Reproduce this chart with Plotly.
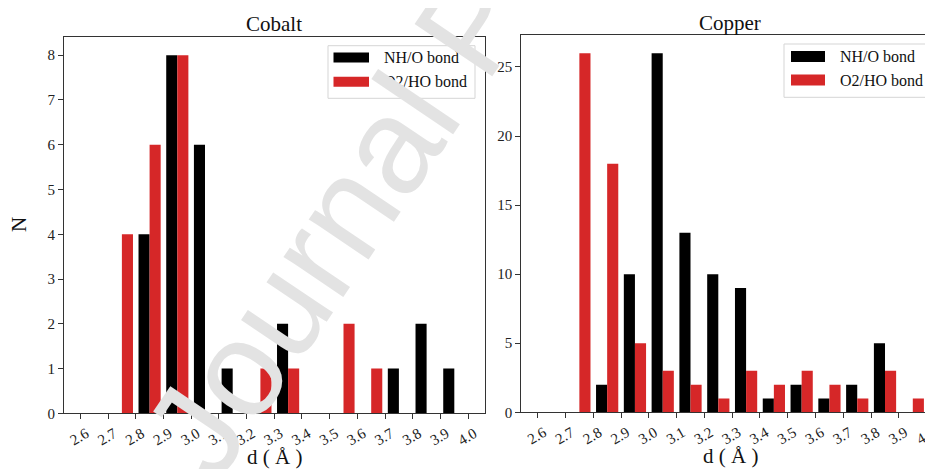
import plotly.graph_objects as go

# ---- data ----
bin_centers = [2.65, 2.75, 2.85, 2.95, 3.05, 3.15, 3.25, 3.35, 3.45, 3.55, 3.65, 3.75, 3.85, 3.95]
tick_vals = [2.6, 2.7, 2.8, 2.9, 3.0, 3.1, 3.2, 3.3, 3.4, 3.5, 3.6, 3.7, 3.8, 3.9, 4.0]
tick_text = ["2.6", "2.7", "2.8", "2.9", "3.0", "3.1", "3.2", "3.3", "3.4", "3.5", "3.6", "3.7", "3.8", "3.9", "4.0"]

cobalt_nho = [0, 0, 4, 8, 6, 1, 0, 2, 0, 0, 0, 1, 2, 1]
cobalt_o2ho = [0, 4, 6, 8, 0, 0, 1, 1, 0, 2, 1, 0, 0, 0]
copper_nho = [0, 0, 2, 10, 26, 13, 10, 9, 1, 2, 1, 2, 5, 0]
copper_o2ho = [0, 26, 18, 5, 3, 2, 1, 3, 2, 3, 2, 1, 3, 1]

series_names = ["NH/O bond", "O2/HO bond"]
BLACK = "#000000"
RED = "#d62728"
SERIF = "Liberation Serif, Times New Roman, serif"

# the page body has an 8px margin, so the figure is drawn at (8, 8) in the window
OFF = 8
VW, VH = 933, 469
W, H = VW - OFF, VH - OFF
def px_x(p):
    return (p - OFF) / W
def px_y(p):
    return (H - (p - OFF)) / H

fig = go.Figure()
fig.add_trace(go.Bar(x=bin_centers, y=cobalt_nho, name=series_names[0], marker_color=BLACK,
                     marker_line_width=0, xaxis="x", yaxis="y", showlegend=False))
fig.add_trace(go.Bar(x=bin_centers, y=cobalt_o2ho, name=series_names[1], marker_color=RED,
                     marker_line_width=0, xaxis="x", yaxis="y", showlegend=False))
fig.add_trace(go.Bar(x=bin_centers, y=copper_nho, name=series_names[0], marker_color=BLACK,
                     marker_line_width=0, xaxis="x2", yaxis="y2", showlegend=False))
fig.add_trace(go.Bar(x=bin_centers, y=copper_o2ho, name=series_names[1], marker_color=RED,
                     marker_line_width=0, xaxis="x2", yaxis="y2", showlegend=False))

axis_common = dict(showgrid=False, zeroline=False, showline=True, linecolor="#333333", linewidth=1,
                   ticks="outside", ticklen=5, tickcolor="#333333", automargin=False,
                   ticklabeloverflow="allow",
                   tickfont=dict(family=SERIF, size=15, color="#222222"))

fig.update_layout(
    width=W, height=H,
    margin=dict(l=0, r=0, t=0, b=0, autoexpand=False),
    paper_bgcolor="white", plot_bgcolor="white",
    barmode="group", bargap=0.2, bargroupgap=0,
    xaxis=dict(domain=[px_x(64), px_x(484.5)], range=[2.541, 4.059], anchor="y",
               tickvals=tick_vals, ticktext=tick_text, tickangle=-30, mirror=True,
               ticklabelshift=6, **axis_common),
    yaxis=dict(domain=[px_y(413.3), px_y(37.3)], range=[0, 8.4], anchor="x",
               dtick=1, mirror=True, **axis_common),
    xaxis2=dict(domain=[px_x(521.3), 1.0], range=[2.541, 4.0227], anchor="y2",
                tickvals=tick_vals, ticktext=tick_text, tickangle=-30, mirror=True,
                ticklabelshift=6, **axis_common),
    yaxis2=dict(domain=[px_y(412.3), px_y(35.2)], range=[0, 27.3], anchor="x2",
                dtick=5, mirror=False, **axis_common),
)

ann = []
def label(text, x, y, size=21, angle=0):
    ann.append(dict(text=text, x=px_x(x), y=px_y(y), xref="paper", yref="paper",
                    xanchor="center", yanchor="middle", textangle=angle,
                    showarrow=False, font=dict(family=SERIF, size=size, color="#111111")))

# titles
label("Cobalt", 274, 24)
label("Copper", 730, 23)
# axis labels
label("d ( Å )", 274, 457)
label("d ( Å )", 730, 456)
label("N", 19, 225, angle=-90)

shapes = []
def legend(box, patch_x, patch_w, rows_y, patch_h, text_x):
    x0, y0, x1, y1 = box
    shapes.append(dict(type="rect", xref="paper", yref="paper",
                       x0=px_x(x0), x1=px_x(x1), y0=px_y(y1), y1=px_y(y0),
                       line=dict(color="#d5d5d5", width=1), fillcolor="rgba(255,255,255,0.8)"))
    for cy, col, name in zip(rows_y, [BLACK, RED], series_names):
        shapes.append(dict(type="rect", xref="paper", yref="paper",
                           x0=px_x(patch_x), x1=px_x(patch_x + patch_w),
                           y0=px_y(cy + patch_h / 2), y1=px_y(cy - patch_h / 2),
                           line=dict(width=0), fillcolor=col))
        ann.append(dict(text=name, x=px_x(text_x), y=px_y(cy), xref="paper", yref="paper",
                        xanchor="left", yanchor="middle", showarrow=False,
                        font=dict(family=SERIF, size=16, color="#111111")))

legend((328, 45.7, 475, 98.3), 333.5, 35.5, [57.5, 81.8], 10, 381.5)
legend((784, 44, 931.5, 97.3), 791, 34, [56.5, 80], 11, 838)

# watermark
ann.append(dict(text="Journal Pre-proof", x=px_x(470), y=px_y(25), xref="paper", yref="paper",
                xanchor="center", yanchor="middle", textangle=-56, showarrow=False,
                font=dict(family="Liberation Sans, Arial, sans-serif", size=136, color="#e3e3e3")))

fig.update_layout(annotations=ann, shapes=shapes)
fig.write_html("out.html")
